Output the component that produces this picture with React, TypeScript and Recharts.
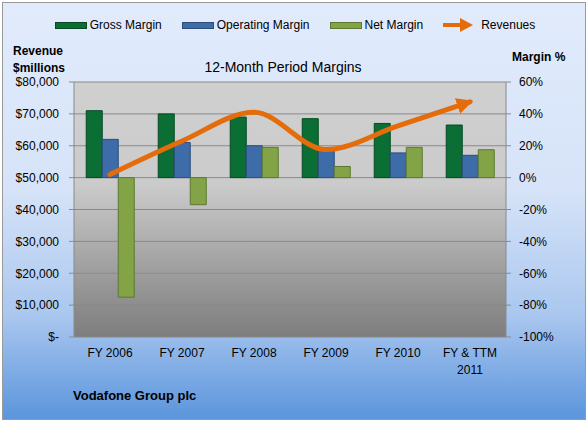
import React from 'react';
import { ComposedChart, Bar, Line, XAxis, YAxis, CartesianGrid } from 'recharts';

const periods = ['FY 2006', 'FY 2007', 'FY 2008', 'FY 2009', 'FY 2010', 'FY & TTM 2011'];
const grossMargin = [42, 40, 38, 37, 34, 33];
const operatingMargin = [24, 22, 20, 17, 15.5, 14];
const netMargin = [-75, -17, 19, 7, 19, 17.5];
const revenues = [51000, 61500, 70500, 58800, 66200, 73800];

const revenueTicks = [0, 10000, 20000, 30000, 40000, 50000, 60000, 70000, 80000];
const marginTicks = [-100, -80, -60, -40, -20, 0, 20, 40, 60];

const data = periods.map((p, i) => ({
    period: p,
    gross: grossMargin[i],
    operating: operatingMargin[i],
    net: netMargin[i],
    revenue: revenues[i],
}));

const FONT = '"Liberation Sans", Arial, sans-serif';

// x axis labels, the last one wraps on two lines
const PeriodTick = ({ x, y, payload }: any) => {
    const words = String(payload.value).split(' ');
    const lines = words.length > 2 ? [words.slice(0, 3).join(' '), words.slice(3).join(' ')] : [payload.value];
    return (
        <text x={x} y={y + 12} textAnchor="middle" fill="#000" fontSize={12} fontFamily={FONT}>
            {lines.map((l: string, i: number) => (
                <tspan key={i} x={x} dy={i === 0 ? 0 : 17}>{l}</tspan>
            ))}
        </text>
    );
};

const money = (v: number) => (v === 0 ? '$-' : '$' + v.toLocaleString('en-US'));

const LegendItem = ({ color, border, label, arrow }: any) => (
    <div style={{ display: 'flex', alignItems: 'center', marginRight: 20 }}>
        {arrow ? (
            <svg width={30} height={14} style={{ marginRight: 8 }}>
                <line x1={0} y1={7} x2={20} y2={7} stroke="#e46c0a" strokeWidth={4} />
                <polygon points="17,0 30,7 17,14" fill="#e46c0a" />
            </svg>
        ) : (
            <div style={{ width: 30, height: 5, background: color, border: `1px solid ${border}`, marginRight: 3 }} />
        )}
        <span>{label}</span>
    </div>
);

export default function App() {
    return (
        <div style={{ position: 'absolute', left: 0, top: 0, width: 588, height: 422, fontFamily: FONT }}>
            <svg width={0} height={0} style={{ position: 'absolute' }}>
                <defs>
                    <linearGradient id="plotBg" x1="0" y1="0" x2="0" y2="1">
                        <stop offset="0%" stopColor="#d0d0d0" />
                        <stop offset="40%" stopColor="#cbcbcb" />
                        <stop offset="100%" stopColor="#7d7d7d" />
                    </linearGradient>
                    <marker id="arrowEnd" viewBox="0 0 10 10" refX="8" refY="5" markerWidth="3.3" markerHeight="3.3" orient="auto">
                        <path d="M0,0 L10,5 L0,10 z" fill="#e46c0a" />
                    </marker>
                </defs>
            </svg>
            <div style={{
                position: 'absolute', left: 2, top: 2, width: 582, height: 416,
                border: '1px solid #9a9a9a',
                background: 'linear-gradient(to bottom, #e1ebfc 0%, #d6e3f8 45%, #aac7ef 75%, #5b95dc 100%)',
            }} />
            <div style={{ position: 'absolute', left: 0, top: 18, width: 588, display: 'flex', justifyContent: 'center', fontSize: 12, paddingLeft: 22, boxSizing: 'border-box' }}>
                <LegendItem color="#0b6e35" border="#064a23" label="Gross Margin" />
                <LegendItem color="#3e6ca8" border="#2a4d7a" label="Operating Margin" />
                <LegendItem color="#83a446" border="#5d7830" label="Net Margin" />
                <LegendItem arrow label="Revenues" />
            </div>
            <div style={{ position: 'absolute', left: 13, top: 43, fontSize: 12, fontWeight: 'bold', lineHeight: '17px' }}>
                Revenue<br />$millions
            </div>
            <div style={{ position: 'absolute', left: 512, top: 50, fontSize: 12, fontWeight: 'bold' }}>Margin %</div>
            <div style={{ position: 'absolute', left: 0, width: 566, top: 59, textAlign: 'center', fontSize: 14 }}>12-Month Period Margins</div>
            <div style={{ position: 'absolute', left: 73, top: 388, fontSize: 13, fontWeight: 'bold' }}>Vodafone Group plc</div>
            <div style={{ position: 'absolute', left: 0, top: 0 }}>
                <ComposedChart
                    width={588}
                    height={422}
                    data={data}
                    margin={{ top: 82, right: 22, left: 14, bottom: 45 }}
                    barGap={0}
                    barCategoryGap="17%"
                >
                    <CartesianGrid vertical={false} stroke="#8a8a8a" fill="url(#plotBg)" fillOpacity={1} yAxisId="left" />
                    <XAxis dataKey="period" tick={<PeriodTick />} tickLine={false} axisLine={false} height={40} interval={0} />
                    <YAxis
                        yAxisId="left"
                        width={60}
                        domain={[0, 80000]}
                        ticks={revenueTicks}
                        tickFormatter={money}
                        tick={{ fill: '#000', fontSize: 12, fontFamily: FONT, dx: -8 }}
                        axisLine={{ stroke: '#8a8a8a' }}
                        tickLine={{ stroke: '#8a8a8a' }}
                        tickSize={5}
                    />
                    <YAxis
                        yAxisId="right"
                        orientation="right"
                        width={60}
                        domain={[-100, 60]}
                        ticks={marginTicks}
                        tickFormatter={(v: number) => `${v}%`}
                        tick={{ fill: '#000', fontSize: 12, fontFamily: FONT, textAnchor: 'start', dx: 6 }}
                        axisLine={{ stroke: '#8a8a8a' }}
                        tickLine={{ stroke: '#8a8a8a' }}
                        tickSize={5}
                    />
                    <Bar yAxisId="right" dataKey="gross" fill="#0b6e35" stroke="#064a23" strokeWidth={1} isAnimationActive={false} />
                    <Bar yAxisId="right" dataKey="operating" fill="#3e6ca8" stroke="#2a4d7a" strokeWidth={1} isAnimationActive={false} />
                    <Bar yAxisId="right" dataKey="net" fill="#83a446" stroke="#5d7830" strokeWidth={1} isAnimationActive={false} />
                    <Line
                        yAxisId="left"
                        dataKey="revenue"
                        type="monotone"
                        stroke="#e46c0a"
                        strokeWidth={5}
                        strokeLinecap="round"
                        dot={false}
                        markerEnd="url(#arrowEnd)"
                        isAnimationActive={false}
                    />
                </ComposedChart>
            </div>
        </div>
    );
}
